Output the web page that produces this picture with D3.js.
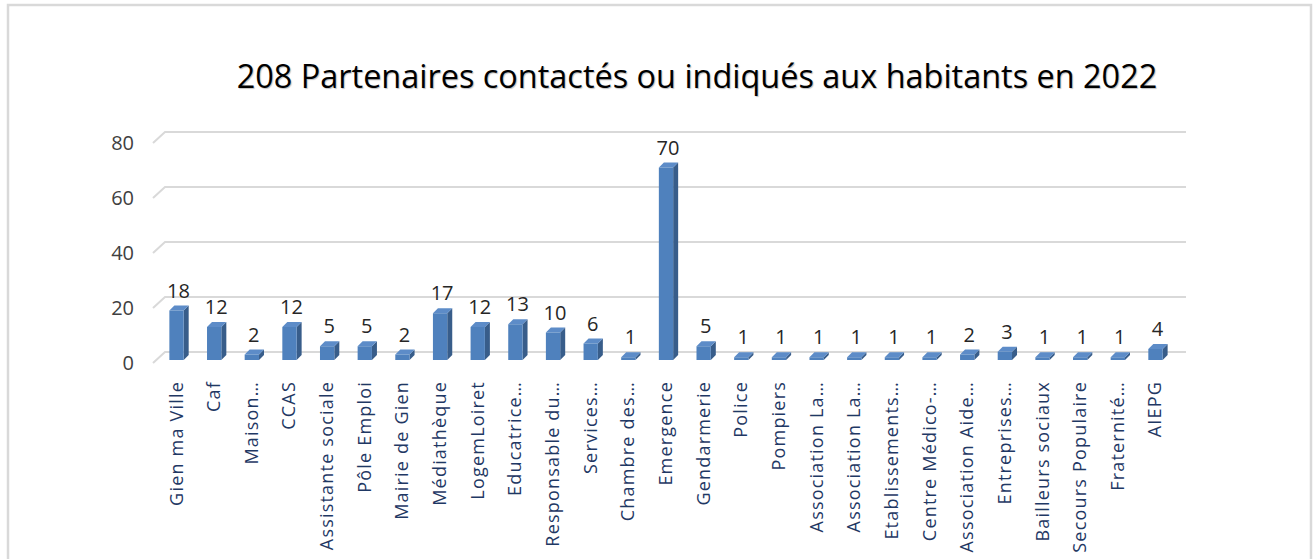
<!DOCTYPE html>
<html>
<head>
<meta charset="utf-8">
<script src="https://cdn.jsdelivr.net/npm/d3@7"></script>
<style>
  body { margin: 0; background: #fff; }
  svg { display: block; }
</style>
</head>
<body>
<script>
// data
const categories = ["Gien ma Ville", "Caf", "Maison…", "CCAS", "Assistante sociale", "Pôle Emploi",
  "Mairie de Gien", "Médiathèque", "LogemLoiret", "Educatrice…", "Responsable du…", "Services…",
  "Chambre des…", "Emergence", "Gendarmerie", "Police", "Pompiers", "Association La…",
  "Association La…", "Etablissements…", "Centre Médico-…", "Association Aide…", "Entreprises…",
  "Bailleurs sociaux", "Secours Populaire", "Fraternité…", "AIEPG"];
const values = [18, 12, 2, 12, 5, 5, 2, 17, 12, 13, 10, 6, 1, 70, 5, 1, 1, 1, 1, 1, 1, 2, 3, 1, 1, 1, 4];
const yTicks = [0, 20, 40, 60, 80];
const title = "208 Partenaires contactés ou indiqués aux habitants en 2022";

const width = 1314;
const height = 559;
const font = "'Open Sans', Lato, sans-serif";

const svg = d3.select("body")
  .append("svg")
  .attr("width", width)
  .attr("height", height);

// outer frame
svg.append("rect")
  .attr("x", 8).attr("y", 5)
  .attr("width", 1303).attr("height", 570)
  .attr("fill", "#fff")
  .attr("stroke", "#d9d9d9")
  .attr("stroke-width", 2.5);

// title, sized to fit its span
const t = svg.append("text")
  .attr("x", 697).attr("y", 88)
  .attr("text-anchor", "middle")
  .attr("font-family", font)
  .attr("font-size", 30)
  .attr("fill", "#000")
  .style("text-shadow", "1px 1px 1px rgba(0,0,0,0.25)")
  .text(title);
const tw = t.node().getComputedTextLength();
t.attr("font-size", 30 * 921 / tw);

// 3d offsets
const depthX = 12, depthY = 11;   // wall depth
const barDX = 5, barDY = 5;       // bar side depth

const x = d3.scaleBand()
  .domain(d3.range(categories.length))
  .range([157.7, 1174.3])
  .paddingInner(0.62)
  .paddingOuter(0.31);

const yBack = d3.scaleLinear().domain([0, 80]).range([352, 132]);
const yFront = d3.scaleLinear().domain([0, 80]).range([363, 143]);
const yBar = d3.scaleLinear().domain([0, 80]).range([360, 140]);

// gridlines with the little perspective corner
const grid = svg.append("g");
yTicks.forEach(v => {
  grid.append("path")
    .attr("d", `M153,${yFront(v)} L${153 + depthX},${yBack(v)} L1186,${yBack(v)}`)
    .attr("fill", "none")
    .attr("stroke", "#d9d9d9")
    .attr("stroke-width", 2);
});

// y axis labels
const yAxis = d3.axisLeft(yFront)
  .tickValues(yTicks)
  .tickSize(0)
  .tickPadding(0);
const ya = svg.append("g")
  .attr("transform", "translate(134,0)")
  .call(yAxis);
ya.select(".domain").remove();
ya.selectAll("text")
  .attr("font-family", font)
  .attr("font-size", 20)
  .attr("fill", "#404040");

// bars
const bw = x.bandwidth();
const bars = svg.append("g").selectAll("g")
  .data(values)
  .enter()
  .append("g");

bars.append("polygon")  // side
  .attr("points", (d, i) => {
    const x1 = x(i) + bw, top = yBar(d), base = yBar(0);
    return `${x1},${top} ${x1 + barDX},${top - barDY} ${x1 + barDX},${base - barDY} ${x1},${base}`;
  })
  .attr("fill", "#385d8a");

bars.append("polygon")  // top
  .attr("points", (d, i) => {
    const x0 = x(i), top = yBar(d);
    return `${x0},${top} ${x0 + barDX},${top - barDY} ${x0 + bw + barDX},${top - barDY} ${x0 + bw},${top}`;
  })
  .attr("fill", "#5d8cc8");

bars.append("rect")  // front
  .attr("x", (d, i) => x(i))
  .attr("y", d => yBar(d))
  .attr("width", bw)
  .attr("height", d => yBar(0) - yBar(d))
  .attr("fill", "#4f81bd");

// value labels
bars.append("text")
  .attr("x", (d, i) => x(i) + bw / 2 + 2)
  .attr("y", d => yBar(d) - 13)
  .attr("text-anchor", "middle")
  .attr("font-family", font)
  .attr("font-size", 20)
  .attr("fill", "#262626")
  .text(d => d);

// category labels, rotated
svg.append("g").selectAll("text")
  .data(categories)
  .enter()
  .append("text")
  .attr("transform", (d, i) => `translate(${x(i) + bw / 2 + 6},381) rotate(-90)`)
  .attr("text-anchor", "end")
  .attr("font-family", font)
  .attr("font-size", 18)
  .attr("letter-spacing", 1.2)
  .attr("fill", "#1f3864")
  .text(d => d);
</script>
</body>
</html>
